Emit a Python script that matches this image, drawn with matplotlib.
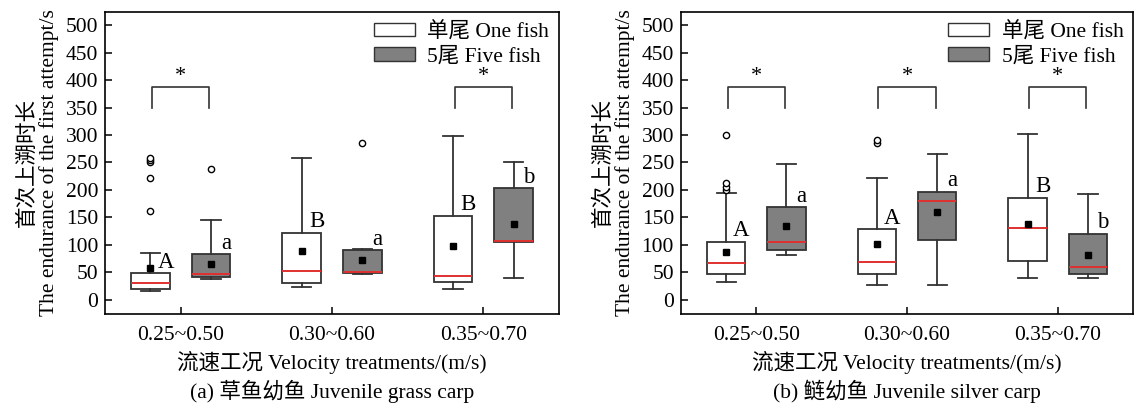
import numpy as np
import matplotlib.pyplot as plt
from matplotlib.patches import Patch

plt.rcParams['font.family'] = ['Liberation Serif', 'Noto Sans CJK SC']
plt.rcParams['font.size'] = 15.5

# velocity treatments
groups = ['0.25~0.50', '0.30~0.60', '0.35~0.70']

# (a) grass carp - box stats
grass_one_q1 = [20, 31, 32]
grass_one_med = [30, 52, 43]
grass_one_q3 = [48, 122, 153]
grass_one_lo = [16, 23, 20]
grass_one_hi = [85, 259, 298]
grass_one_mean = [57, 88, 98]
grass_one_fliers = [[162, 221, 250, 254, 258], [], []]

grass_five_q1 = [41, 49, 106]
grass_five_med = [46, 51, 107]
grass_five_q3 = [83, 90, 203]
grass_five_lo = [37, 46, 39]
grass_five_hi = [145, 92, 250]
grass_five_mean = [65, 73, 137]
grass_five_fliers = [[238], [286], []]

grass_letters_one = ['A', 'B', 'B']
grass_letters_five = ['a', 'a', 'b']
grass_sig = [True, False, True]

# (b) silver carp
silver_one_q1 = [47, 47, 71]
silver_one_med = [66, 69, 131]
silver_one_q3 = [106, 128, 186]
silver_one_lo = [33, 27, 39]
silver_one_hi = [194, 221, 302]
silver_one_mean = [86, 101, 137]
silver_one_fliers = [[200, 206, 213, 300], [286, 291], []]

silver_five_q1 = [91, 108, 46]
silver_five_med = [105, 179, 60]
silver_five_q3 = [168, 196, 120]
silver_five_lo = [81, 27, 39]
silver_five_hi = [248, 265, 193]
silver_five_mean = [134, 159, 82]
silver_five_fliers = [[], [], []]

silver_letters_one = ['A', 'A', 'B']
silver_letters_five = ['a', 'a', 'b']
silver_sig = [True, True, True]

EDGE = '#333333'
RED = '#e03030'
GRAY = '#808080'


def make_stats(q1, med, q3, lo, hi, mean, fliers):
    return [dict(q1=q1[i], med=med[i], q3=q3[i], whislo=lo[i], whishi=hi[i],
                 mean=mean[i], fliers=fliers[i]) for i in range(len(q1))]


def draw_box(ax, stats, pos, fc):
    ax.bxp(stats, positions=pos, widths=0.255, showmeans=True, patch_artist=True,
           manage_ticks=False,
           boxprops=dict(facecolor=fc, edgecolor=EDGE, linewidth=1.3),
           medianprops=dict(color=RED, linewidth=1.4),
           whiskerprops=dict(color=EDGE, linewidth=1.3),
           capprops=dict(color=EDGE, linewidth=1.3),
           flierprops=dict(marker='o', markersize=4.5, markerfacecolor='white',
                           markeredgecolor='black', markeredgewidth=1.0),
           meanprops=dict(marker='s', markersize=5, markerfacecolor='black',
                          markeredgecolor='black'))


def draw_panel(ax, one, five, letters_one, letters_five, sig, title):
    x = np.arange(1, len(groups) + 1)
    draw_box(ax, make_stats(*one), x - 0.2, 'white')
    draw_box(ax, make_stats(*five), x + 0.2, GRAY)

    # letters above the boxes
    for i in range(len(groups)):
        ax.annotate(letters_one[i], (x[i] - 0.1, one[2][i]), xytext=(0, 8),
                    textcoords='offset points', ha='center', va='center', fontsize=16.5)
        ax.annotate(letters_five[i], (x[i] + 0.3, five[2][i]), xytext=(0, 8),
                    textcoords='offset points', ha='center', va='center', fontsize=16.5)

    # significance brackets
    for i in range(len(groups)):
        if sig[i]:
            ax.plot([x[i] - 0.19, x[i] - 0.19, x[i] + 0.19, x[i] + 0.19],
                    [350, 388, 388, 350], color=EDGE, lw=1.2)
            ax.text(x[i], 389, '*', ha='center', va='bottom', fontsize=16)

    ax.set_xlim(0.5, 3.5)
    ax.set_ylim(-26, 524)
    ax.set_yticks(np.arange(0, 501, 50))
    ax.set_xticks(x)
    ax.set_xticklabels(groups)
    ax.tick_params(direction='in', length=5, width=1.1, pad=5)
    ax.tick_params(axis='x', pad=9)
    for s in ax.spines.values():
        s.set_linewidth(1.2)
    ax.set_xlabel('流速工况 Velocity treatments/(m/s)', labelpad=4)
    ax.set_ylabel('首次上溯时长\nThe endurance of the first attempt/s', linespacing=1.05, labelpad=5)
    handles = [Patch(facecolor='white', edgecolor=EDGE, label='单尾 One fish'),
               Patch(facecolor=GRAY, edgecolor=EDGE, label='5尾 Five fish')]
    ax.legend(handles=handles, loc='upper right', frameon=False, handlelength=1.9,
              handleheight=0.6, handletextpad=0.6, borderaxespad=0.05, labelspacing=0.25)
    pos = ax.get_position()
    fig.text(pos.x0 + pos.width / 2, 0.033, title, ha='center', va='center')


fig = plt.figure(figsize=(11.34, 4.05), dpi=100)
ax1 = fig.add_axes([0.0926, 0.2247, 0.4004, 0.7457])
ax2 = fig.add_axes([0.6005, 0.2247, 0.3988, 0.7457])

draw_panel(ax1,
           (grass_one_q1, grass_one_med, grass_one_q3, grass_one_lo, grass_one_hi, grass_one_mean, grass_one_fliers),
           (grass_five_q1, grass_five_med, grass_five_q3, grass_five_lo, grass_five_hi, grass_five_mean, grass_five_fliers),
           grass_letters_one, grass_letters_five, grass_sig, '(a) 草鱼幼鱼 Juvenile grass carp')
draw_panel(ax2,
           (silver_one_q1, silver_one_med, silver_one_q3, silver_one_lo, silver_one_hi, silver_one_mean, silver_one_fliers),
           (silver_five_q1, silver_five_med, silver_five_q3, silver_five_lo, silver_five_hi, silver_five_mean, silver_five_fliers),
           silver_letters_one, silver_letters_five, silver_sig, '(b) 鲢幼鱼 Juvenile silver carp')

fig.savefig('out.png', dpi=100)
